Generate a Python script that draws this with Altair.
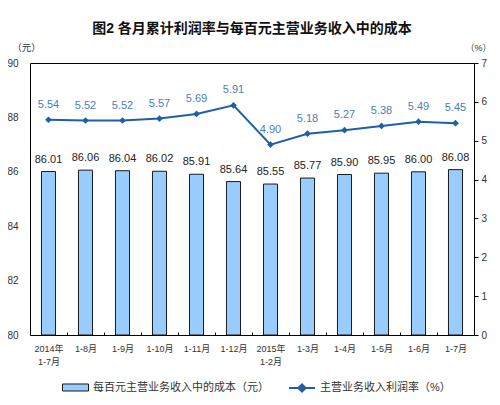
import altair as alt
import pandas as pd

categories = ["2014年\n1-7月", "1-8月", "1-9月", "1-10月", "1-11月", "1-12月",
              "2015年\n1-2月", "1-3月", "1-4月", "1-5月", "1-6月", "1-7月"]
cost = [86.01, 86.06, 86.04, 86.02, 85.91, 85.64, 85.55, 85.77, 85.90, 85.95, 86.00, 86.08]
margin = [5.54, 5.52, 5.52, 5.57, 5.69, 5.91, 4.90, 5.18, 5.27, 5.38, 5.49, 5.45]
bar_name = "每百元主营业务收入中的成本（元）"
line_name = "主营业务收入利润率（%）"

df = pd.DataFrame({"cat": categories, "cost": cost, "margin": margin,
                   "bar_s": bar_name, "line_s": line_name})
df["cost_lbl"] = [f"{v:.2f}" for v in cost]
df["margin_lbl"] = [f"{v:.2f}" for v in margin]

FONT = "Liberation Sans, Noto Sans CJK SC"
LINE_C = "#1F5FA8"
LBL_C = "#4A7EBB"

x_axis = alt.Axis(labelAngle=0, ticks=True, tickSize=3, tickColor="#000000", tickOffset=-18.5,
                  labelOffset=18.5, offset=-3, domain=False, labelPadding=9,
                  labelFontSize=9, labelColor="#333333", labelFont=FONT,
                  labelLineHeight=13, labelLimit=200,
                  labelExpr="split(datum.label, '\\n')")
x = alt.X("cat:N", sort=categories, title=None,
          scale=alt.Scale(paddingInner=0.62, paddingOuter=0.31), axis=x_axis)

yl = alt.Scale(domain=[80, 90], nice=False, zero=False)
yr = alt.Scale(domain=[0, 7], nice=False, zero=False)

left_axis = alt.Axis(values=[80, 82, 84, 86, 88, 90], ticks=False, domain=False, grid=False,
                     labelPadding=12, labelFontSize=10, labelColor="#333333", labelFont=FONT,
                     title="（元）", titleAngle=0, titleX=-4, titleY=-16, titleAlign="center",
                     titleBaseline="middle", titleFontWeight="normal", titleFontSize=9.5,
                     titleColor="#333333", titleFont=FONT, orient="left")
right_axis = alt.Axis(values=[0, 1, 2, 3, 4, 5, 6, 7], ticks=True, tickSize=4, tickColor="#000000",
                      domain=False, grid=False, labelPadding=3, labelFontSize=10,
                      labelColor="#333333", labelFont=FONT,
                      title="（%）", titleAngle=0, titleX=4, titleY=-16, titleAlign="center",
                      titleBaseline="middle", titleFontWeight="normal", titleFontSize=9,
                      titleColor="#333333", titleFont=FONT, orient="right")

base = alt.Chart(df)

bars = base.mark_bar(stroke="#1a1a1a", strokeWidth=1, clip=True).encode(
    x=x,
    y=alt.Y("cost:Q", scale=yl, axis=left_axis, title="（元）"),
    y2=alt.datum(80),
    fill=alt.Fill("bar_s:N", title=None,
                  scale=alt.Scale(domain=[bar_name], range=["#99CCFF"]),
                  legend=alt.Legend(orient="none", legendX=32, legendY=311,
                                    symbolType="M-1,-0.27H1V0.27H-1Z", symbolSize=676,
                                    symbolStrokeColor="#1a1a1a", symbolStrokeWidth=1,
                                    labelFontSize=11, labelFont=FONT, labelColor="#333333",
                                    labelLimit=400)),
)
bar_text = base.mark_text(baseline="middle", dy=-12, fontSize=11, font=FONT,
                          color="#222222").encode(
    x=x, y=alt.Y("cost:Q", scale=yl, axis=left_axis, title="（元）"), text="cost_lbl:N")

line = base.mark_line(strokeWidth=2, color=LINE_C).encode(
    x=x,
    y=alt.Y("margin:Q", scale=yr, axis=right_axis, title="（%）"),
    stroke=alt.Stroke("line_s:N", title=None,
                      scale=alt.Scale(domain=[line_name], range=[LINE_C]),
                      legend=alt.Legend(orient="none", legendX=258, legendY=311,
                                        symbolType="M-1,0H1M-0.28,0L0,-0.28L0.28,0L0,0.28Z",
                                        symbolSize=676, symbolFillColor=LINE_C,
                                        symbolStrokeWidth=2,
                                        labelFontSize=11, labelFont=FONT, labelColor="#333333",
                                        labelLimit=400)),
)
pts = base.mark_point(shape="diamond", filled=True, size=45, color=LINE_C, opacity=1).encode(
    x=x, y=alt.Y("margin:Q", scale=yr, axis=right_axis, title="（%）"))
line_text = base.mark_text(baseline="middle", dy=-15, fontSize=11, font=FONT,
                           color=LBL_C).encode(
    x=x, y=alt.Y("margin:Q", scale=yr, axis=right_axis, title="（%）"), text="margin_lbl:N")

left = alt.layer(bars, bar_text)
right = alt.layer(line, pts, line_text)

chart = alt.layer(left, right).resolve_scale(y="independent").properties(
    width=444, height=272,
    autosize=alt.AutoSizeParams(type="none"),
    padding={"left": 22, "top": 55, "right": 18, "bottom": 62},
    background="white",
    title=alt.Title("图2  各月累计利润率与每百元主营业务收入中的成本", fontSize=14,
                    fontWeight="bold", font=FONT, color="#111111", anchor="middle",
                    offset=6),
).configure_view(stroke="#000000", strokeWidth=1)

chart.save("out.html", embed_options={"renderer": "svg", "actions": False})
